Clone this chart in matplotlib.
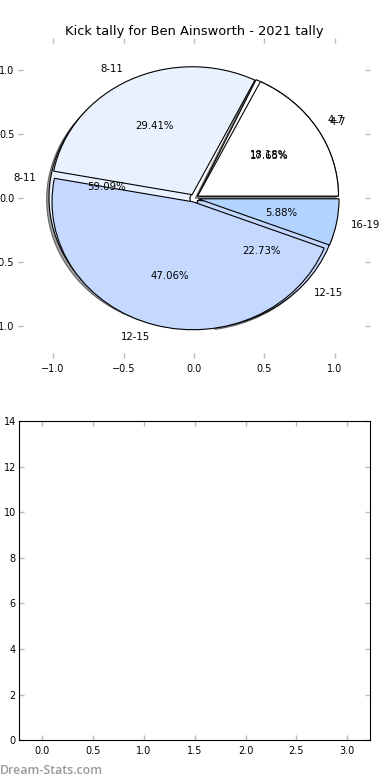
import matplotlib
matplotlib.use("Agg")
import matplotlib.pyplot as plt

# --- data ---
labels_a = ["4-7", "8-11", "12-15", "16-19"]
values_a = [3, 5, 8, 1]
labels_b = ["4-7", "8-11", "12-15"]
values_b = [4, 13, 5]
colors_map = {"4-7": "#ffffff", "8-11": "#eaf1fe", "12-15": "#c5d9ff", "16-19": "#b3d4ff"}
title = "Kick tally for Ben Ainsworth - 2021 tally"
pie_ticks = [-1.0, -0.5, 0.0, 0.5, 1.0]
bar_xticks = [0.0, 0.5, 1.0, 1.5, 2.0, 2.5, 3.0]
bar_yticks = [0, 2, 4, 6, 8, 10, 12, 14]

fig = plt.figure(figsize=(3.9, 7.8), dpi=100)
ax1 = fig.add_axes([0.046, 0.541, 0.903, 0.410])
ax2 = fig.add_axes([0.0495, 0.051, 0.8995, 0.409])

fs = 7.3
wp = dict(edgecolor="black", linewidth=0.8)

# second (3-slice) pie, with shadow, drawn underneath
ax1.pie(values_b, labels=labels_b, colors=[colors_map[l] for l in labels_b],
        explode=[0.03] * len(values_b), autopct="%1.2f%%",
        shadow={"ox": -0.012, "oy": -0.012, "shade": 0.7,
                "edgecolor": "black", "linewidth": 0.8},
        wedgeprops=wp, textprops=dict(fontsize=fs), frame=True)
# first (4-slice) pie on top
ax1.pie(values_a, labels=labels_a, colors=[colors_map[l] for l in labels_a],
        explode=[0.03] * len(values_a), autopct="%1.2f%%",
        wedgeprops=wp, textprops=dict(fontsize=fs), frame=True)

ax1.set_aspect("auto")
ax1.set_xlim(-1.25, 1.25)
ax1.set_ylim(-1.25, 1.25)
ax1.set_xticks(pie_ticks)
ax1.set_yticks(pie_ticks)
for s in ax1.spines.values():
    s.set_visible(False)
ax1.set_title(title, fontsize=9.4, pad=2)

ax2.set_xlim(-0.225, 3.225)
ax2.set_ylim(0, 14)
ax2.set_xticks(bar_xticks)
ax2.set_yticks(bar_yticks)

for ax in (ax1, ax2):
    ax.tick_params(direction="in", length=3.5, width=1, color="#bbbbbb",
                   labelsize=7, top=True, right=True, pad=4)
    ax.tick_params(axis="y", pad=2.5)

fig.text(0.0, 0.004, "Dream-Stats.com", fontsize=8.9, color="#9a9a9a",
         family=["Open Sans", "DejaVu Sans"], fontweight="semibold", ha="left", va="bottom")

fig.savefig("out.png", dpi=100)
